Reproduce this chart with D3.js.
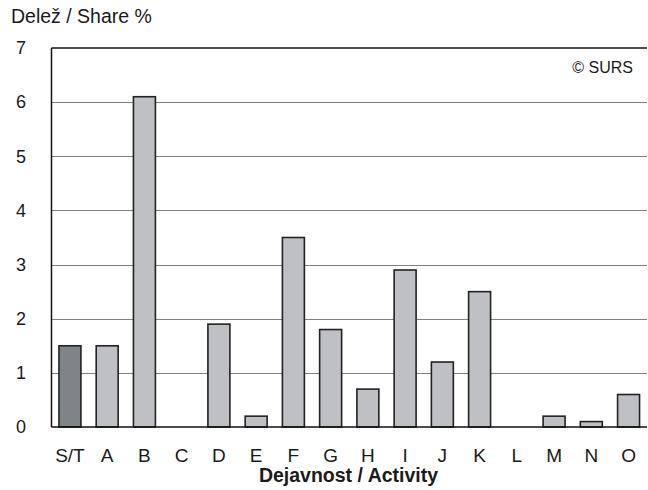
<!DOCTYPE html>
<html>
<head>
<meta charset="utf-8">
<script src="https://cdn.jsdelivr.net/npm/d3@7"></script>
<style>
  body { margin: 0; background: #fff; }
  text { font-family: "Liberation Sans", Arial, sans-serif; fill: #1a1a1a; }
</style>
</head>
<body>
<div id="chart"></div>
<script>
// data
const categories = ['S/T', 'A', 'B', 'C', 'D', 'E', 'F', 'G', 'H', 'I', 'J', 'K', 'L', 'M', 'N', 'O'];
const shares = [1.5, 1.5, 6.1, 0, 1.9, 0.2, 3.5, 1.8, 0.7, 2.9, 1.2, 2.5, 0, 0.2, 0.1, 0.6];
const yTicks = [0, 1, 2, 3, 4, 5, 6, 7];

const width = 648, height = 490;
const margin = { top: 48, right: 1, bottom: 63, left: 51.5 };

const svg = d3.select('#chart').append('svg')
    .attr('width', width)
    .attr('height', height);

const innerW = width - margin.left - margin.right;
const innerH = height - margin.top - margin.bottom;

const xScale = d3.scaleBand()
    .domain(categories)
    .range([0, innerW])
    .paddingInner(0.41)
    .paddingOuter(0.2);

const yScale = d3.scaleLinear()
    .domain([0, 7])
    .range([innerH, 0]);

const chart = svg.append('g')
    .attr('transform', `translate(${margin.left},${margin.top})`);

// gridlines
chart.append('g')
    .selectAll('line')
    .data(yTicks.filter(d => d > 0 && d < 7))
    .join('line')
    .attr('x1', 0)
    .attr('x2', innerW)
    .attr('y1', d => Math.round(yScale(d)) + 0.5)
    .attr('y2', d => Math.round(yScale(d)) + 0.5)
    .attr('stroke', '#808080')
    .attr('stroke-width', 1.2);

// top line
chart.append('line')
    .attr('x1', 0).attr('x2', innerW)
    .attr('y1', yScale(7)).attr('y2', yScale(7))
    .attr('stroke', '#111').attr('stroke-width', 1.3);

// bars
chart.append('g')
    .selectAll('rect')
    .data(categories.map((c, i) => ({ cat: c, val: shares[i] })))
    .join('rect')
    .attr('x', d => xScale(d.cat))
    .attr('width', xScale.bandwidth())
    .attr('y', d => yScale(d.val))
    .attr('height', d => innerH - yScale(d.val))
    .attr('fill', d => d.cat === 'S/T' ? '#7f8587' : '#bfc0c4')
    .attr('stroke', '#222')
    .attr('stroke-width', d => d.val > 0 ? 1.6 : 0);

// axes lines
chart.append('line')
    .attr('x1', 0).attr('x2', 0)
    .attr('y1', 0).attr('y2', innerH)
    .attr('stroke', '#111').attr('stroke-width', 1.5);
chart.append('line')
    .attr('x1', 0).attr('x2', innerW)
    .attr('y1', innerH).attr('y2', innerH)
    .attr('stroke', '#111').attr('stroke-width', 1.5);

// y tick labels
svg.append('g')
    .selectAll('text')
    .data(yTicks)
    .join('text')
    .attr('x', 21)
    .attr('y', d => margin.top + yScale(d))
    .attr('dy', '0.35em')
    .attr('text-anchor', 'middle')
    .attr('font-size', 18)
    .text(d => d);

// x tick labels
svg.append('g')
    .selectAll('text')
    .data(categories)
    .join('text')
    .attr('x', d => margin.left + xScale(d) + xScale.bandwidth() / 2)
    .attr('y', 462)
    .attr('text-anchor', 'middle')
    .attr('font-size', 19)
    .text(d => d);

// axis titles
svg.append('text')
    .attr('x', 11)
    .attr('y', 23)
    .attr('font-size', 19.5)
    .text('Delež / Share %');

svg.append('text')
    .attr('x', 348.5)
    .attr('y', 482)
    .attr('text-anchor', 'middle')
    .attr('font-size', 19.5)
    .attr('font-weight', 'bold')
    .text('Dejavnost / Activity');

svg.append('text')
    .attr('x', 633)
    .attr('y', 73)
    .attr('text-anchor', 'end')
    .attr('font-size', 16)
    .text('© SURS');
</script>
</body>
</html>
